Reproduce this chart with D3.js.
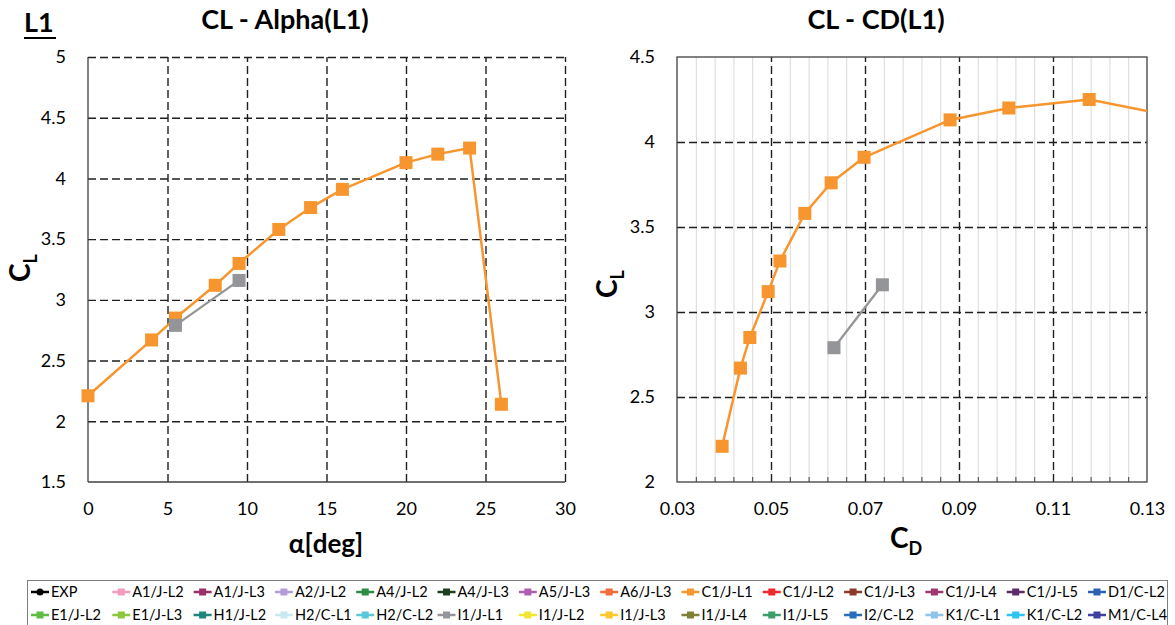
<!DOCTYPE html>
<html>
<head>
<meta charset="utf-8">
<script src="https://cdn.jsdelivr.net/npm/d3@7"></script>
<style>
  html, body { margin: 0; padding: 0; background: #fff; }
  svg { display: block; font-family: Lato, "Open Sans", sans-serif; }
</style>
</head>
<body>
<svg id="chart" width="1175" height="625"></svg>
<script>
// ---- data: C1/J-L1 and I1/J-L1, case L1 ----
const alphaC1JL1 = [0, 4, 5.5, 8, 9.5, 12, 14, 16, 20, 22, 24, 26];
const clC1JL1    = [2.21, 2.67, 2.85, 3.12, 3.30, 3.58, 3.76, 3.91, 4.13, 4.20, 4.25, 2.14];
const cdC1JL1    = [0.0396, 0.0435, 0.0455, 0.0494, 0.0519, 0.0572, 0.0628, 0.0698, 0.0881, 0.1006, 0.1177, 0.50];

const alphaI1JL1 = [5.5, 9.5];
const clI1JL1    = [2.79, 3.16];
const cdI1JL1    = [0.0634, 0.0737];

// axis ticks
const alphaTicks = [0, 5, 10, 15, 20, 25, 30];
const clTicksLeft = [1.5, 2, 2.5, 3, 3.5, 4, 4.5, 5];
const cdTicks = [0.03, 0.05, 0.07, 0.09, 0.11, 0.13];
const cdMinorTicks = d3.range(0, 26).map(i => 0.03 + i * 0.004).filter(v => v < 0.1305);
const clTicksRight = [2, 2.5, 3, 3.5, 4, 4.5];

// legend entries (two rows of 14)
const legendNames = [
  "EXP", "A1/J-L2", "A1/J-L3", "A2/J-L2", "A4/J-L2", "A4/J-L3", "A5/J-L3", "A6/J-L3",
  "C1/J-L1", "C1/J-L2", "C1/J-L3", "C1/J-L4", "C1/J-L5", "D1/C-L2",
  "E1/J-L2", "E1/J-L3", "H1/J-L2", "H2/C-L1", "H2/C-L2", "I1/J-L1", "I1/J-L2",
  "I1/J-L3", "I1/J-L4", "I1/J-L5", "I2/C-L2", "K1/C-L1", "K1/C-L2", "M1/C-L4"
];
const legendColors = [
  "#000000", "#F49AC2", "#9B2F6A", "#B39DDB", "#2E8B45", "#1E3F20", "#B05FB0", "#F26B38",
  "#F7962F", "#EE2A2F", "#8B3A2A", "#A0376E", "#5E2A6B", "#2F5FAF",
  "#5DBB46", "#8DC63F", "#1E857A", "#C9E8F0", "#5BC8D8", "#939598", "#F2E632",
  "#FDC82F", "#7F7F35", "#3C9C6A", "#2A6EBB", "#8FC3EA", "#2BC4F3", "#3F3F9F"
];

const ORANGE = "#F7962F";
const GRAY = "#939598";
const GRID = "#1F1F1F";
const svg = d3.select("#chart");

const plotTop = 57, plotBottom = 482;

function series(xs, ys) { return xs.map((x, i) => ({ x, y: ys[i] })); }

function drawSeries(g, x, y, data, color, width, clipId) {
  const line = d3.line().x(d => x(d.x)).y(d => y(d.y));
  const sg = g.append("g");
  if (clipId) sg.attr("clip-path", `url(#${clipId})`);
  sg.append("path").datum(data)
    .attr("fill", "none").attr("stroke", color).attr("stroke-width", width)
    .attr("stroke-linejoin", "round").attr("d", line);
  sg.selectAll("rect").data(data).enter().append("rect")
    .attr("x", d => x(d.x) - 6.5).attr("y", d => y(d.y) - 6.5)
    .attr("width", 13).attr("height", 13)
    .attr("fill", color);
}

function axisTitle(g, tx, ty, rot, main, sub) {
  const t = g.append("text")
    .attr("transform", `translate(${tx},${ty})` + (rot ? " rotate(-90)" : ""))
    .attr("text-anchor", "middle").attr("font-weight", "bold");
  t.append("tspan").attr("font-size", 28).text(main);
  t.append("tspan").attr("font-size", 18).attr("dy", 7).text(sub);
}

// ---------- left chart: CL vs alpha ----------
{
  const x = d3.scaleLinear().domain([0, 30]).range([88, 565]);
  const y = d3.scaleLinear().domain([1.5, 5]).range([plotBottom, plotTop]);
  const g = svg.append("g");

  // dashed grid
  g.append("g").attr("transform", `translate(0,${plotBottom})`)
    .call(d3.axisBottom(x).tickValues(alphaTicks.slice(1)).tickSize(-(plotBottom - plotTop)).tickFormat(""))
    .call(a => a.select(".domain").remove())
    .selectAll("line").attr("stroke", GRID).attr("stroke-width", 1.4).attr("stroke-dasharray", "8,4");
  g.append("g").attr("transform", `translate(88,0)`)
    .call(d3.axisLeft(y).tickValues(clTicksLeft.slice(1)).tickSize(-(565 - 88)).tickFormat(""))
    .call(a => a.select(".domain").remove())
    .selectAll("line").attr("stroke", GRID).attr("stroke-width", 1.4).attr("stroke-dasharray", "8,4");

  // axis lines
  g.append("line").attr("x1", 88).attr("x2", 88).attr("y1", plotTop).attr("y2", plotBottom).attr("stroke", "#404040").attr("stroke-width", 1.3);
  g.append("line").attr("x1", 88).attr("x2", 565).attr("y1", plotBottom).attr("y2", plotBottom).attr("stroke", "#404040").attr("stroke-width", 1.3);

  // tick labels
  g.append("g").attr("transform", `translate(0,${plotBottom})`)
    .call(d3.axisBottom(x).tickValues(alphaTicks).tickSize(0).tickPadding(20).tickFormat(d3.format("d")))
    .call(a => a.select(".domain").remove())
    .selectAll("text").attr("font-size", 18).attr("fill", "#000").attr("font-family", "Lato");
  g.append("g").attr("transform", `translate(88,0)`)
    .call(d3.axisLeft(y).tickValues(clTicksLeft).tickSize(0).tickPadding(22).tickFormat(d => String(d)))
    .call(a => a.select(".domain").remove())
    .selectAll("text").attr("font-size", 18).attr("fill", "#000").attr("font-family", "Lato");

  drawSeries(g, x, y, series(alphaC1JL1, clC1JL1), ORANGE, 2.5);
  drawSeries(g, x, y, series(alphaI1JL1, clI1JL1), GRAY, 2.25);

  // titles
  g.append("text").attr("x", 285).attr("y", 29).attr("text-anchor", "middle")
    .attr("font-size", 27).attr("font-weight", "bold").text("CL - Alpha(L1)");
  g.append("text").attr("x", 326).attr("y", 553).attr("text-anchor", "middle")
    .attr("font-size", 26).attr("font-weight", "bold").text("α[deg]");
  axisTitle(g, 30, 268, true, "C", "L");
}

// ---------- right chart: CL vs CD ----------
{
  const x = d3.scaleLinear().domain([0.03, 0.13]).range([677, 1147]);
  const y = d3.scaleLinear().domain([2, 4.5]).range([plotBottom, plotTop]);
  const g = svg.append("g");

  g.append("defs").append("clipPath").attr("id", "plotClipR")
    .append("rect").attr("x", 677).attr("y", plotTop).attr("width", 1147 - 677).attr("height", plotBottom - plotTop);

  // minor vertical grid
  const minor = cdMinorTicks.filter(v => !cdTicks.some(t => Math.abs(t - v) < 1e-6));
  g.append("g").attr("transform", `translate(0,${plotBottom})`)
    .call(d3.axisBottom(x).tickValues(minor).tickSize(-(plotBottom - plotTop)).tickFormat(""))
    .call(a => a.select(".domain").remove())
    .selectAll("line").attr("stroke", "#D9D9D9").attr("stroke-width", 1);

  // major dashed grid
  g.append("g").attr("transform", `translate(0,${plotBottom})`)
    .call(d3.axisBottom(x).tickValues(cdTicks.slice(1, -1)).tickSize(-(plotBottom - plotTop)).tickFormat(""))
    .call(a => a.select(".domain").remove())
    .selectAll("line").attr("stroke", GRID).attr("stroke-width", 1.4).attr("stroke-dasharray", "8,4");
  g.append("g").attr("transform", `translate(677,0)`)
    .call(d3.axisLeft(y).tickValues(clTicksRight.slice(1, -1)).tickSize(-(1147 - 677)).tickFormat(""))
    .call(a => a.select(".domain").remove())
    .selectAll("line").attr("stroke", GRID).attr("stroke-width", 1.4).attr("stroke-dasharray", "8,4");

  // plot border
  g.append("rect").attr("x", 677).attr("y", plotTop).attr("width", 1147 - 677).attr("height", plotBottom - plotTop)
    .attr("fill", "none").attr("stroke", "#404040").attr("stroke-width", 1.3);

  // minor ticks on the CD axis
  g.append("g").attr("transform", `translate(0,${plotBottom})`)
    .call(d3.axisTop(x).tickValues(minor).tickSize(5).tickFormat(""))
    .call(a => a.select(".domain").remove())
    .selectAll("line").attr("stroke", "#404040").attr("stroke-width", 1);

  // tick labels
  g.append("g").attr("transform", `translate(0,${plotBottom})`)
    .call(d3.axisBottom(x).tickValues(cdTicks).tickSize(0).tickPadding(20).tickFormat(d3.format(".2f")))
    .call(a => a.select(".domain").remove())
    .selectAll("text").attr("font-size", 18).attr("fill", "#000").attr("font-family", "Lato");
  g.append("g").attr("transform", `translate(677,0)`)
    .call(d3.axisLeft(y).tickValues(clTicksRight).tickSize(0).tickPadding(22).tickFormat(d => String(d)))
    .call(a => a.select(".domain").remove())
    .selectAll("text").attr("font-size", 18).attr("fill", "#000").attr("font-family", "Lato");

  drawSeries(g, x, y, series(cdC1JL1, clC1JL1), ORANGE, 2.5, "plotClipR");
  drawSeries(g, x, y, series(cdI1JL1, clI1JL1), GRAY, 2.25, "plotClipR");

  g.append("text").attr("x", 876).attr("y", 29).attr("text-anchor", "middle")
    .attr("font-size", 27).attr("font-weight", "bold").text("CL - CD(L1)");
  axisTitle(g, 906, 548, false, "C", "D");
  axisTitle(g, 617, 284, true, "C", "L");
}

// ---------- panel label ----------
svg.append("text").attr("x", 24).attr("y", 32).attr("font-size", 27).attr("font-weight", "bold").text("L1");
svg.append("line").attr("x1", 24).attr("x2", 56).attr("y1", 38).attr("y2", 38).attr("stroke", "#000").attr("stroke-width", 2);

// ---------- legend ----------
{
  const lg = svg.append("g");
  lg.append("rect").attr("x", 27.5).attr("y", 580.5).attr("width", 1140).attr("height", 50)
    .attr("fill", "#fff").attr("stroke", "#7F7F7F").attr("stroke-width", 1);
  const col = d3.scaleLinear().domain([0, 13]).range([31, 1088]);
  const items = lg.selectAll("g.item").data(legendNames.map((n, i) => ({ n, c: legendColors[i], i })))
    .enter().append("g").attr("class", "item")
    .attr("transform", d => `translate(${col(d.i % 14)},${d.i < 14 ? 592 : 615})`);
  items.append("line").attr("x1", 0).attr("x2", 18).attr("y1", 0).attr("y2", 0)
    .attr("stroke", d => d.c).attr("stroke-width", 2.5);
  items.filter(d => d.n === "EXP").append("circle").attr("cx", 9).attr("cy", 0).attr("r", 3.5).attr("fill", d => d.c);
  items.filter(d => d.n !== "EXP").append("rect").attr("x", 5.5).attr("y", -3.5).attr("width", 7).attr("height", 7).attr("fill", d => d.c);
  items.append("text").attr("x", 20).attr("y", 5).attr("font-size", 14.5).attr("fill", "#000").text(d => d.n);
}
</script>
</body>
</html>
